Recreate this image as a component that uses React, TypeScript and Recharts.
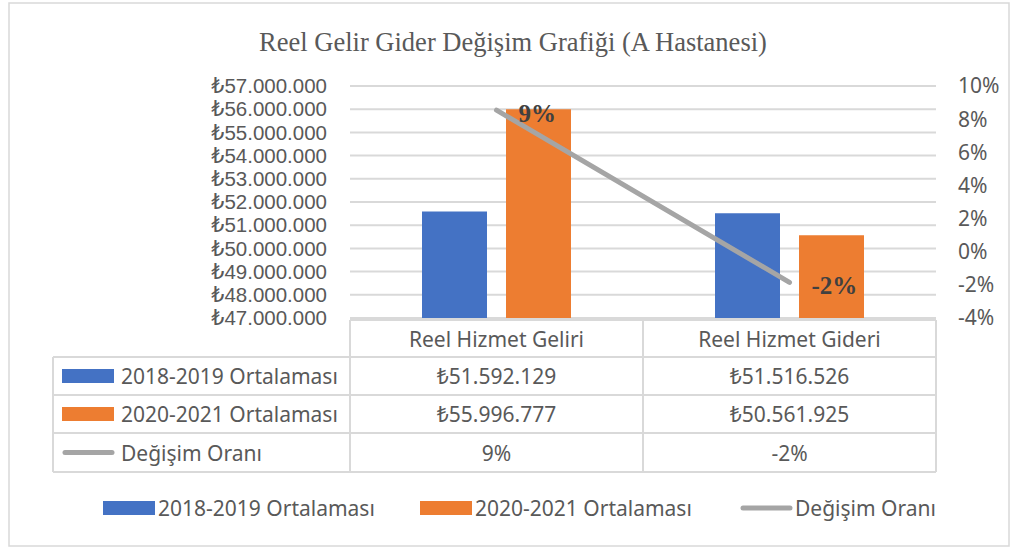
import {
  ComposedChart,
  Bar,
  Line,
  XAxis,
  YAxis,
  CartesianGrid,
  LabelList,
} from 'recharts'

const categories = ['Reel Hizmet Geliri', 'Reel Hizmet Gideri']
const avg2018 = [51592129, 51516526]
const avg2020 = [55996777, 50561925]
const changeRate = [0.0854, -0.0185]
const seriesNames = ['2018-2019 Ortalaması', '2020-2021 Ortalaması', 'Değişim Oranı']
const leftTicks = [47000000, 48000000, 49000000, 50000000, 51000000, 52000000, 53000000, 54000000, 55000000, 56000000, 57000000]
const rightTicks = [-0.04, -0.02, 0, 0.02, 0.04, 0.06, 0.08, 0.1]

const BLUE = '#4472C4'
const ORANGE = '#ED7D31'
const GREY = '#A5A5A5'
const TEXT = '#595959'
const LINE = '#D9D9D9'
const SANS = '"Noto Sans", "DejaVu Sans", sans-serif'
const TIGHT = '"Liberation Sans", "DejaVu Sans", sans-serif'
const SERIF = '"Liberation Serif", "DejaVu Serif", serif'
const FS = 21

const W = 1011
const H = 548
const PLOT_L = 350
const PLOT_R = 936
const PLOT_T = 86
const PLOT_B = 318

const chartData = categories.map((name, i) => ({
  name,
  a: avg2018[i],
  b: avg2020[i],
  c: changeRate[i],
}))

const tl = (n: number) => '₺' + String(n).replace(/\B(?=(\d{3})+(?!\d))/g, '.')
const pct = (v: number) => Math.round(v * 100) + '%'

// table rows under the plot: header + one row per series
const ROW_Y = [320, 357, 395, 433, 472]

function TableTick(props: any) {
  const { x, payload } = props
  const i = payload.index
  const mid = (k: number) => (ROW_Y[k] + ROW_Y[k + 1]) / 2
  const cells = [payload.value, tl(avg2018[i]), tl(avg2020[i]), pct(changeRate[i])]
  return (
    <g>
      {cells.map((c, k) => (
        <text
          key={k}
          x={x}
          y={mid(k)}
          textAnchor="middle"
          dominantBaseline="central"
          fill={TEXT}
          fontFamily={SANS}
          fontSize={FS}
        >
          {c}
        </text>
      ))}
    </g>
  )
}

function RateLabel(props: any) {
  const { x, y, value } = props
  return (
    <text
      x={x + 22}
      y={y + 3}
      dominantBaseline="central"
      fill="#404040"
      fontFamily={SERIF}
      fontWeight="bold"
      fontSize={25}
    >
      {pct(value)}
    </text>
  )
}

function Swatch({ kind, x, y }: { kind: number; x: number; y: number }) {
  if (kind === 2) {
    return <line x1={x + 3} x2={x + 50} y1={y} y2={y} stroke={GREY} strokeWidth={5} strokeLinecap="round" />
  }
  return <rect x={x} y={y - 7} width={52} height={14} fill={kind === 0 ? BLUE : ORANGE} />
}

function Overlay() {
  const colW = (PLOT_R - PLOT_L) / categories.length
  const legendX = [103, 420, 740]
  return (
    <svg width={W} height={H} style={{ position: 'absolute', left: 0, top: 0, pointerEvents: 'none' }}>
      <rect x={9} y={3} width={1000} height={543} fill="none" stroke={LINE} strokeWidth={1.5} />
      <text x={513} y={42} textAnchor="middle" dominantBaseline="central" fill={TEXT} fontFamily={SERIF} fontSize={26.5}>
        Reel Gelir Gider Değişim Grafiği (A Hastanesi)
      </text>
      {/* table grid */}
      <g stroke={LINE} strokeWidth={2}>
        <line x1={PLOT_L} x2={PLOT_R} y1={ROW_Y[0]} y2={ROW_Y[0]} />
        {ROW_Y.slice(1).map((y) => (
          <line key={y} x1={53} x2={PLOT_R} y1={y} y2={y} />
        ))}
        <line x1={53} x2={53} y1={ROW_Y[1]} y2={ROW_Y[4]} />
        {categories.map((_, i) => (
          <line key={i} x1={PLOT_L + i * colW} x2={PLOT_L + i * colW} y1={ROW_Y[0]} y2={ROW_Y[4]} />
        ))}
        <line x1={PLOT_R} x2={PLOT_R} y1={ROW_Y[0]} y2={ROW_Y[4]} />
      </g>
      {seriesNames.map((s, k) => {
        const y = (ROW_Y[k + 1] + ROW_Y[k + 2]) / 2
        return (
          <g key={s}>
            <Swatch kind={k} x={62} y={y} />
            <text x={121} y={y} dominantBaseline="central" fill={TEXT} fontFamily={SANS} fontSize={FS}>
              {s}
            </text>
          </g>
        )
      })}
      {/* legend */}
      {seriesNames.map((s, k) => (
        <g key={s}>
          <Swatch kind={k} x={legendX[k]} y={508} />
          <text x={legendX[k] + 55} y={508} dominantBaseline="central" fill={TEXT} fontFamily={SANS} fontSize={FS}>
            {s}
          </text>
        </g>
      ))}
    </svg>
  )
}

export default function App() {
  return (
    <div style={{ position: 'absolute', left: 0, top: 0, width: W, height: H, background: '#fff' }}>
      <ComposedChart
        width={W}
        height={H}
        data={chartData}
        margin={{ top: PLOT_T, right: 0, bottom: 0, left: 0 }}
        barSize={65}
        barGap={19}
      >
        <CartesianGrid yAxisId="left" vertical={false} stroke={LINE} strokeWidth={2} />
        <XAxis
          dataKey="name"
          height={H - PLOT_B}
          axisLine={false}
          tickLine={false}
          tickSize={0}
          tickMargin={0}
          interval={0}
          tick={<TableTick />}
        />
        <YAxis
          yAxisId="left"
          orientation="left"
          width={PLOT_L}
          domain={[47000000, 57000000]}
          ticks={leftTicks}
          interval={0}
          tickFormatter={tl}
          axisLine={false}
          tickLine={false}
          tickSize={0}
          tickMargin={23}
          tick={{ fill: TEXT, fontFamily: TIGHT, fontSize: 20.5 }}
        />
        <YAxis
          yAxisId="right"
          orientation="right"
          width={W - PLOT_R}
          domain={[-0.04, 0.1]}
          ticks={rightTicks}
          interval={0}
          tickFormatter={pct}
          axisLine={false}
          tickLine={false}
          tickSize={0}
          tickMargin={22}
          tick={{ fill: TEXT, fontFamily: SANS, fontSize: FS }}
        />
        <Bar yAxisId="left" dataKey="a" name={seriesNames[0]} fill={BLUE} isAnimationActive={false} />
        <Bar yAxisId="left" dataKey="b" name={seriesNames[1]} fill={ORANGE} isAnimationActive={false} />
        <Line
          yAxisId="right"
          dataKey="c"
          name={seriesNames[2]}
          stroke={GREY}
          strokeWidth={5}
          strokeLinecap="round"
          dot={false}
          activeDot={false}
          isAnimationActive={false}
        >
          <LabelList dataKey="c" content={<RateLabel />} />
        </Line>
      </ComposedChart>
      <Overlay />
    </div>
  )
}
